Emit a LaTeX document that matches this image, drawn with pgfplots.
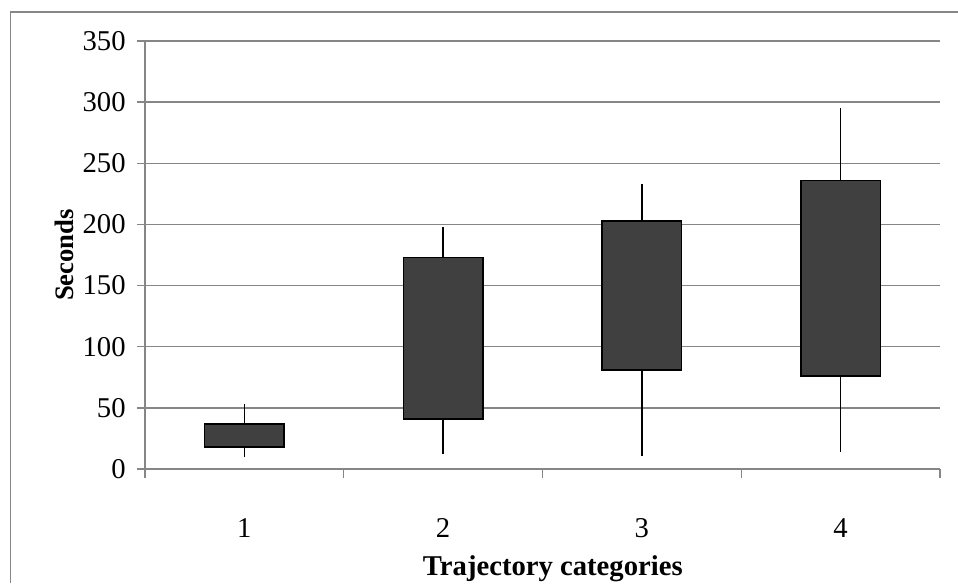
\documentclass[border=0pt]{standalone}
\usepackage{fontspec}
\setmainfont{Liberation Serif}
\usepackage{pgfplots}
\pgfplotsset{compat=1.18}

\definecolor{boxfill}{HTML}{404040}
\definecolor{axgray}{HTML}{868686}

\begin{document}
\begin{tikzpicture}
% page = 958 x 583 px, 1 px = 0.75pt
\useasboundingbox (0,0) rectangle (718.5pt,437.25pt);
\draw[axgray, line width=1.1pt] (7.9pt,0) -- (7.9pt,428.25pt) -- (718.5pt,428.25pt);

\begin{axis}[
    at={(108.75pt,85.5pt)}, anchor=south west,
    scale only axis,
    width=596.25pt, height=321pt,
    xmin=0.5, xmax=4.5,
    ymin=0, ymax=350,
    ytick={0,50,...,350},
    xtick={1,2,3,4},
    minor xtick={0.5,1.5,2.5,3.5,4.5},
    axis x line*=bottom, axis y line*=left,
    axis line style={axgray, line width=1.1pt, -},
    tick align=outside,
    major tick length=6pt, minor tick length=6.75pt,
    major x tick style={draw=none},
    every tick/.style={axgray, line width=1.1pt},
    minor x tick style={axgray, line width=1.1pt},
    ymajorgrids,
    grid style={axgray, line width=1pt},
    tick label style={font=\fontsize{21.5}{24}\selectfont},
    /pgf/number format/assume math mode=true,
    xticklabel style={anchor=center, yshift=-38pt},
    yticklabel style={anchor=east, xshift=-5pt},
    xlabel={\textbf{Trajectory categories}},
    ylabel={\textbf{Seconds}},
    xlabel style={font=\fontsize{21.5}{24}\selectfont, at={(axis description cs:0.513,-0.2335)}, anchor=center},
    ylabel style={font=\fontsize{20}{24}\selectfont, at={(axis description cs:-0.1019,0.5)}, anchor=center},
    whisk/.style={black, line width=1.1pt, mark=none},
    box/.style={fill=boxfill, draw=black, line width=1.3pt, mark=none},
]
% whiskers: low -> high
\addplot[whisk] coordinates {(1,10) (1,53)};
\addplot[whisk] coordinates {(2,12) (2,198)};
\addplot[whisk] coordinates {(3,11) (3,233)};
\addplot[whisk] coordinates {(4,14) (4,295)};
% boxes: lower and upper quartile, width 0.4
\addplot[box] coordinates {(0.8,18) (1.2,18) (1.2,37) (0.8,37)} -- cycle;
\addplot[box] coordinates {(1.8,41) (2.2,41) (2.2,173) (1.8,173)} -- cycle;
\addplot[box] coordinates {(2.8,81) (3.2,81) (3.2,203) (2.8,203)} -- cycle;
\addplot[box] coordinates {(3.8,76) (4.2,76) (4.2,236) (3.8,236)} -- cycle;
\end{axis}
\end{tikzpicture}
\end{document}
